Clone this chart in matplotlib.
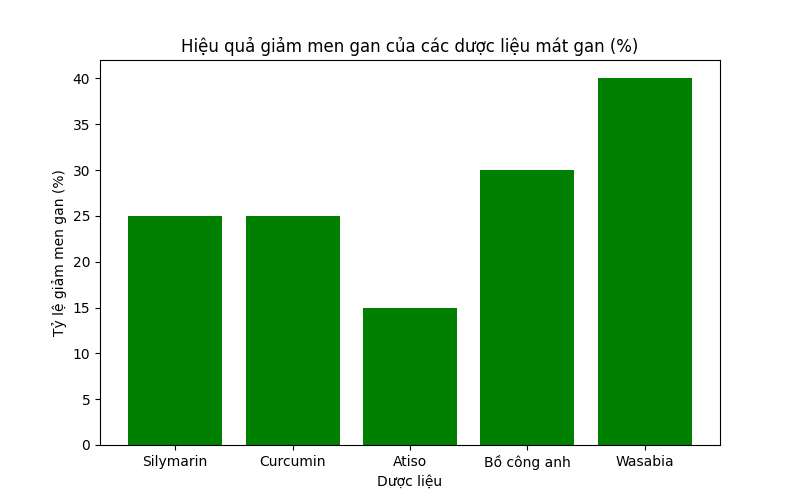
import matplotlib
matplotlib.use('Agg')
import matplotlib.pyplot as plt

# herbs and their liver enzyme reduction (%)
herbs = ['Silymarin', 'Curcumin', 'Atiso', 'Bồ công anh', 'Wasabia']
reduction = [25, 25, 15, 30, 40]

fig, ax = plt.subplots(figsize=(8, 5), dpi=100)
ax.bar(herbs, reduction, color='green')
ax.set_title('Hiệu quả giảm men gan của các dược liệu mát gan (%)')
ax.set_xlabel('Dược liệu')
ax.set_ylabel('Tỷ lệ giảm men gan (%)')

fig.savefig('out.png')
